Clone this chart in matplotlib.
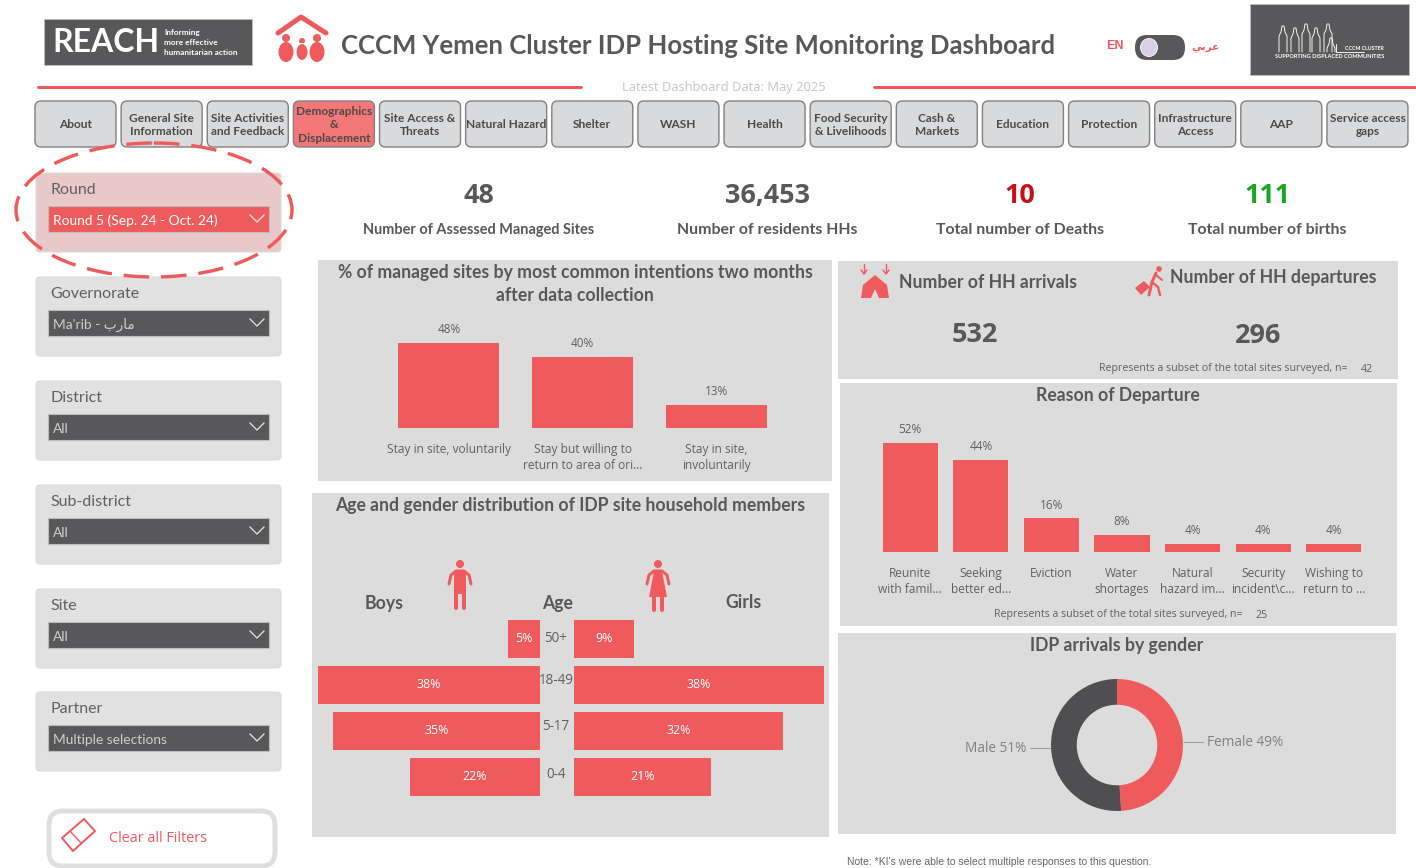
import matplotlib
matplotlib.use('Agg')
import matplotlib.pyplot as plt
from matplotlib.patches import FancyBboxPatch, Ellipse, Circle, Polygon, Rectangle

# values
nav_labels = ['About', 'General Site\nInformation', 'Site Activities\nand Feedback', 'Demographics\n&\nDisplacement',
              'Site Access &\nThreats', 'Natural Hazard', 'Shelter', 'WASH', 'Health', 'Food Security\n& Livelihoods',
              'Cash &\nMarkets', 'Education', 'Protection', 'Infrastructure\nAccess', 'AAP', 'Service access\ngaps']
slicer_names = ['Round', 'Governorate', 'District', 'Sub-district', 'Site', 'Partner']
slicer_values = ['Round 5 (Sep. 24 - Oct. 24)', "Ma'rib - \ufe8f\ufead\ufe8e\ufee3", 'All', 'All', 'All', 'Multiple selections']

kpi_values = ['48', '36,453', '10', '111']
kpi_labels = ['Number of Assessed Managed Sites', 'Number of residents HHs', 'Total number of Deaths', 'Total number of births']

intent_labels = ['Stay in site, voluntarily', 'Stay but willing to\nreturn to area of ori...', 'Stay in site,\ninvoluntarily']
intent_values = [48, 40, 13]

reason_labels = ['Reunite\nwith famil...', 'Seeking\nbetter ed...', 'Eviction', 'Water\nshortages',
                 'Natural\nhazard im...', 'Security\nincident\\c...', 'Wishing to\nreturn to ...']
reason_values = [52, 44, 16, 8, 4, 4, 4]

age_groups = ['50+', '18-49', '5-17', '0-4']
boys_values = [5.49, 38, 35.4, 22.3]
girls_values = [9.1, 38, 31.7, 20.8]

gender_labels = ['Female 49%', 'Male 51%']
gender_values = [49, 51]

RED = '#ef5a5d'
DARK = '#58585a'
PANEL = '#dcdcdc'
FONT = ['Open Sans', 'DejaVu Sans']
HEAD = ['Lato', 'DejaVu Sans']

W, H = 1416, 868
fig = plt.figure(figsize=(W / 100, H / 100), dpi=100)

# background layer, one data unit = one pixel
bg = fig.add_axes([0, 0, 1, 1])
bg.set_xlim(0, W)
bg.set_ylim(H, 0)
bg.axis('off')


def fs(px):
    return px * 0.72


def txt(x, y, s, px, color=DARK, weight='normal', ha='center', va='center', family=FONT, **kw):
    # centre alignment lands about 2 px high in these fonts
    return bg.text(x, y + 2, s, fontsize=fs(px), color=color, fontweight=weight, ha=ha, va=va, family=family, **kw)


def head(x, y, s, px=17.6, **kw):
    return txt(x, y, s, px, weight='bold', family=HEAD, **kw)


def box(x0, y0, x1, y1, fc, ec='none', lw=0, r=0, z=1):
    if r:
        p = FancyBboxPatch((x0, y0), x1 - x0, y1 - y0, boxstyle='round,pad=0,rounding_size=%g' % r,
                           fc=fc, ec=ec, lw=lw, zorder=z)
    else:
        p = Rectangle((x0, y0), x1 - x0, y1 - y0, fc=fc, ec=ec, lw=lw, zorder=z)
    bg.add_patch(p)


def line(xs, ys, color=RED, px=2, z=3, **kw):
    bg.plot(xs, ys, color=color, lw=fs(px), zorder=z, solid_capstyle='round', **kw)


def panel_axes(x0, y0, x1, y1):
    ax = fig.add_axes([x0 / W, 1 - y1 / H, (x1 - x0) / W, (y1 - y0) / H])
    ax.patch.set_alpha(0)
    return ax


def person(cx, top, girl=False):
    bg.add_patch(Circle((cx, top + 4), 4, fc=RED, zorder=3))
    line([cx - 11, cx - 9, cx - 4, cx + 4, cx + 9, cx + 11], [top + 24, top + 15, top + 11, top + 11, top + 15, top + 24], px=3)
    if girl:
        bg.add_patch(Polygon([[cx - 4, top + 11], [cx + 4, top + 11], [cx + 9, top + 37], [cx - 9, top + 37]], fc=RED, zorder=3))
        line([cx - 4, cx - 4], [top + 37, top + 50], px=4)
        line([cx + 4, cx + 4], [top + 37, top + 50], px=4)
    else:
        bg.add_patch(Rectangle((cx - 6, top + 11), 12, 23, fc=RED, zorder=3))
        line([cx - 4, cx - 4], [top + 30, top + 48], px=4)
        line([cx + 4, cx + 4], [top + 30, top + 48], px=4)


# header logos
box(44, 19, 252, 65, DARK, ec='#bdbdbd', lw=0.6, z=1)
txt(52, 40, 'REACH', 32, color='white', weight='bold', ha='left', family=HEAD)
txt(164, 30.5, 'Informing', 8.3, color='white', ha='left', family=HEAD, weight='bold')
txt(164, 40.5, 'more effective', 8.3, color='white', ha='left', family=HEAD, weight='bold')
txt(164, 50.5, 'humanitarian action', 8.3, color='white', ha='left', family=HEAD, weight='bold')

# house and family icon
line([278, 301, 326], [33, 17, 33], px=5)
for cx, cy, r in [(286, 38, 4), (302, 41, 3), (317, 38, 4)]:
    bg.add_patch(Circle((cx, cy), r, fc=RED, zorder=3))
bg.add_patch(Ellipse((286, 52), 15, 20, fc=RED, zorder=3))
bg.add_patch(Ellipse((317, 52), 15, 20, fc=RED, zorder=3))
bg.add_patch(Ellipse((302, 52), 12, 17, fc=RED, ec='white', lw=0.8, zorder=4))

txt(341, 44, 'CCCM Yemen Cluster IDP Hosting Site Monitoring Dashboard', 25.8, weight='bold', ha='left', family=HEAD)

# language toggle
txt(1115, 44, 'EN', 12.5, color=RED, weight='bold', family=['Liberation Sans', 'DejaVu Sans'])
box(1135, 35, 1185, 60, DARK, r=12, z=2)
bg.add_patch(Ellipse((1149, 47.5), 17, 18, fc='#d9cfe8', ec='white', lw=0.6, zorder=3))
txt(1205, 45, '\ufef2\ufe91\ufeae\ufecb', 10.5, color=RED, weight='bold', family=['DejaVu Sans'])

# cluster logo
box(1250, 4, 1409, 75, DARK, ec='#bdbdbd', lw=0.6, z=1)
for cx, h in [(1283, 26), (1295, 24), (1306, 28), (1316, 24), (1331, 14), (1328, 28)]:
    top = 52 - h
    line([cx - 4, cx - 4, cx - 2, cx - 1, cx + 1, cx + 2, cx + 4, cx + 4],
         [52, top + 10, top + 6, top, top, top + 6, top + 10, 52], color='white', px=0.9)
line([1336, 1336, 1342, 1364], [44, 52, 52, 52], color='white', px=0.9)
txt(1364, 47, 'CCCM CLUSTER', 5.2, color='white', weight='bold', family=HEAD)
txt(1330, 54, 'SUPPORTING DISPLACED COMMUNITIES', 5.6, color='white', weight='bold', family=HEAD)

# date strip
line([38, 581], [87, 87], px=3)
line([874, 1415], [87, 87], px=3)
txt(724, 86, 'Latest Dashboard Data: May 2025', 12.9, color='#c6c6c6')

# navigation buttons
for i, label in enumerate(nav_labels):
    x0 = 35 + i * 86.13
    active = label.startswith('Demographics')
    box(x0, 101, x0 + 81, 147, '#f37777' if active else '#d9dadc', ec='#808080', lw=1, r=6, z=2)
    txt(x0 + 40.5, 123, label, 11.9, weight='bold', family=HEAD, linespacing=1.3, color='#4a4a4a')

# slicers on the left
slicer_tops = [173, 277, 381, 485, 589, 692]
for i, name in enumerate(slicer_names):
    top = slicer_tops[i]
    first = i == 0
    box(36, top, 281, top + 79, '#e8c8c9' if first else '#e1e1e1', ec='#dddddd', lw=0.8, r=4, z=1)
    txt(50, top + 15, name, 16, color='#606060', ha='left', family=HEAD)
    box(48, top + 33, 269, top + 59, RED if first else DARK, ec='#bcbcbc', lw=0.8, z=2)
    txt(53, top + 46, slicer_values[i], 13.8, color='white' if first else '#cfcfcf', ha='left', family=HEAD)
    bg.plot([250, 257, 264], [top + 42, top + 49, top + 42], color='#e8e8e8', lw=0.9, zorder=3)

# dashed ellipse around the round slicer
bg.add_patch(Ellipse((154, 210), 276, 134, fc='none', ec=RED, lw=fs(3.4), ls=(0, (7.5, 3.5)), zorder=6))

# clear filters button
box(49, 811, 275, 866, 'white', ec='#dfdfdf', lw=3.5, r=14, z=1)
bg.add_patch(Polygon([[62, 838], [84, 819], [95, 831], [73, 851]], fc='none', ec=RED, lw=1.4, zorder=3))
line([70, 81], [831, 843], px=1.4)
txt(109, 836, 'Clear all Filters', 14.4, color=RED, ha='left')

# KPI row
kpi_x = [479, 767, 1020, 1267]
kpi_colors = [DARK, DARK, '#c8101a', '#18a81f']
kpi_sizes = [14.5, 15.9, 15.9, 15.9]
for i in range(4):
    txt(kpi_x[i], 194, kpi_values[i], 27, color=kpi_colors[i], weight='bold')
    head(kpi_x[i], 228, kpi_labels[i], px=kpi_sizes[i])

# chart panels
box(318, 260, 832, 481, PANEL)
box(312, 493, 829, 837, PANEL)
box(838, 261, 1398, 379, PANEL)
box(840, 383, 1397, 626, PANEL)
box(838, 633, 1396, 834, PANEL)

head(575, 282, '% of managed sites by most common intentions two months\nafter data collection', linespacing=1.45)
head(570, 504, 'Age and gender distribution of IDP site household members')
head(1118, 394, 'Reason of Departure')
head(1117, 644, 'IDP arrivals by gender')

# arrivals and departures
head(899, 280, 'Number of HH arrivals', ha='left')
head(1170, 275, 'Number of HH departures', ha='left')
txt(975, 333, '532', 27, weight='bold')
txt(1258, 334, '296', 27, weight='bold')
txt(1099, 366, 'Represents a subset of the total sites surveyed, n=', 10.6, ha='left', color='#606060')
txt(1367, 368, '42', 10.6, color='#606060')
txt(994, 613, 'Represents a subset of the total sites surveyed, n=', 10.6, ha='left', color='#606060')
txt(1262, 613, '25', 10.6, color='#606060')

# tent icon with arrows
bg.add_patch(Polygon([[861, 298], [863, 285], [875, 275], [887, 285], [889, 298], [879, 298], [875, 289], [871, 298]], fc=RED, zorder=3))
for ax_x, y0 in [(864, 264), (886, 264)]:
    line([ax_x, ax_x], [y0, y0 + 9], px=1.4)
    line([ax_x - 3, ax_x, ax_x + 3], [y0 + 6, y0 + 10, y0 + 6], px=1.4)

# traveller icon
bg.add_patch(Circle((1159, 269), 2.8, fc=RED, zorder=3))
line([1156, 1152, 1149], [273, 282, 295], px=3)
line([1152, 1158, 1160], [282, 287, 295], px=2.4)
line([1156, 1162], [275, 280], px=2)
bg.add_patch(Polygon([[1135, 288], [1144, 281], [1150, 287], [1141, 295]], fc=RED, zorder=3))

person(460, 560)
person(658, 560, girl=True)
head(384, 601, 'Boys')
head(558, 602, 'Age')
head(744, 601, 'Girls')

txt(847, 860, "Note: *KI's were able to select multiple responses to this question.", 10.4, color='#666666',
    ha='left', family=['Liberation Sans', 'DejaVu Sans'])


def bar_panel(ax, labels, values, width, top):
    bars = ax.bar(range(len(values)), values, width=width, color=RED)
    ax.set_xlim(-0.5, len(values) - 0.5)
    ax.set_ylim(0, top)
    ax.set_yticks([])
    ax.set_xticks(range(len(values)))
    ax.set_xticklabels(labels, fontsize=fs(11.9), color='#606060', family=FONT, linespacing=1.3)
    ax.tick_params(axis='x', length=0, pad=10.5)
    for s in ax.spines.values():
        s.set_visible(False)
    ax.bar_label(bars, fmt='%.0f%%', padding=5, fontsize=fs(11.8), color='#606060', family=FONT)


# intentions, 85 px for 48 %
ax1 = panel_axes(382, 328, 783, 428)
bar_panel(ax1, intent_labels, intent_values, 0.757, 56.5)

# reasons, 109 px for 52 %
ax2 = panel_axes(875, 422, 1369, 552)
bar_panel(ax2, reason_labels, reason_values, 0.78, 62)

# population pyramid
ax_l = panel_axes(318, 616, 540, 800)
ax_r = panel_axes(574, 616, 824, 800)
rows = range(len(age_groups))
bars_l = ax_l.barh(rows, boys_values, height=0.826, color=RED)
bars_r = ax_r.barh(rows, girls_values, height=0.826, color=RED)
ax_l.set_xlim(38, 0)
ax_r.set_xlim(0, 38)
for ax, bars in [(ax_l, bars_l), (ax_r, bars_r)]:
    ax.set_ylim(len(age_groups) - 0.5, -0.5)
    ax.set_xticks([])
    ax.set_yticks([])
    for s in ax.spines.values():
        s.set_visible(False)
    ax.bar_label(bars, fmt='%.0f%%', label_type='center', color='white', fontsize=fs(12.4), family=FONT)
age_offset = [0, -4, -4, -2]
for i, age in enumerate(age_groups):
    txt(556, 637 + i * 46 + age_offset[i], age, 13.5, color='#606060')

# donut
ax3 = panel_axes(1051, 679, 1183, 811)
ax3.pie(gender_values, colors=[RED, '#4f4f51'], startangle=90, counterclock=False, radius=1,
        wedgeprops={'width': 0.39, 'linewidth': 0})
ax3.set_xlim(-1, 1)
ax3.set_ylim(-1, 1)
line([1184, 1203], [742, 742], color='#9a9a9a', px=1, z=3)
line([1030, 1050], [748, 748], color='#9a9a9a', px=1, z=3)
txt(1207, 741, gender_labels[0], 13.6, color='#808080', ha='left')
txt(1026, 746, gender_labels[1], 13.6, color='#808080', ha='right')

fig.savefig('out.png', dpi=100, facecolor='white')
